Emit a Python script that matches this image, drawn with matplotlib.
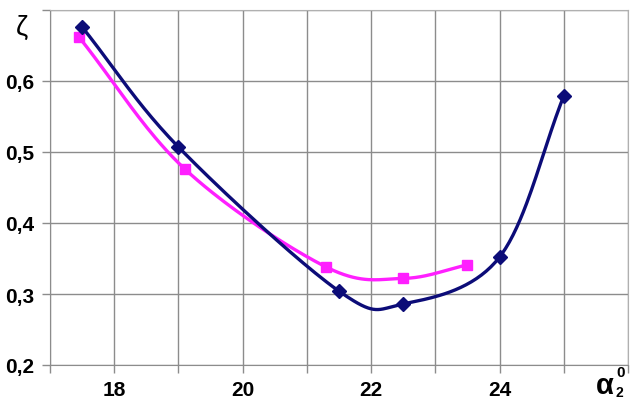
import numpy as np
import matplotlib
matplotlib.use("Agg")
import matplotlib.pyplot as plt
from matplotlib import font_manager

# Data
blue_x = [17.5, 19.0, 21.5, 22.5, 24.0, 25.0]
blue_y = [0.676, 0.507, 0.304, 0.286, 0.352, 0.579]
pink_x = [17.45, 19.1, 21.3, 22.5, 23.5]
pink_y = [0.662, 0.476, 0.338, 0.322, 0.341]
x_ticks = [18, 20, 22, 24]
y_ticks = [0.2, 0.3, 0.4, 0.5, 0.6]
y_labels = ["0,2", "0,3", "0,4", "0,5", "0,6"]


def catmull_rom(xs, ys, n=40):
    p = np.column_stack([xs, ys]).astype(float)
    p = np.vstack([2 * p[0] - p[1], p, 2 * p[-1] - p[-2]])
    out = []
    t = np.linspace(0, 1, n)[:, None]
    for i in range(1, len(p) - 2):
        p0, p1, p2, p3 = p[i - 1], p[i], p[i + 1], p[i + 2]
        seg = 0.5 * ((2 * p1) + (-p0 + p2) * t + (2 * p0 - 5 * p1 + 4 * p2 - p3) * t ** 2
                     + (-p0 + 3 * p1 - 3 * p2 + p3) * t ** 3)
        out.append(seg if i == 1 else seg[1:])
    s = np.vstack(out)
    return s[:, 0], s[:, 1]


names = {f.name for f in font_manager.fontManager.ttflist}
fam = [n for n in ["Liberation Sans Narrow", "Liberation Sans", "DejaVu Sans"] if n in names]
plt.rcParams["font.family"] = fam

fig = plt.figure(figsize=(6.4, 4.06), dpi=100)
ax = fig.add_axes([50 / 640, 1 - 366 / 406, 578 / 640, 355 / 406])

navy = "#0c0c78"
pink = "#ff1fff"

bx, by = catmull_rom(blue_x, blue_y)
px, py = catmull_rom(pink_x, pink_y)
ax.plot(px, py, color=pink, lw=2.4, zorder=3)
ax.plot(pink_x, pink_y, ls="none", marker="s", ms=6.5, color=pink, zorder=4)
ax.plot(bx, by, color=navy, lw=2.4, zorder=5)
ax.plot(blue_x, blue_y, ls="none", marker="D", ms=7.5, color=navy, zorder=6)

ax.set_xlim(17, 26)
ax.set_ylim(0.2, 0.7)
ax.set_xticks(np.arange(17, 27, 1))
ax.set_xticklabels([str(v) if v in x_ticks else "" for v in range(17, 27)])
ax.set_yticks(y_ticks + [0.7])
ax.set_yticklabels(y_labels + [""])
ax.grid(True, color="#8c8c8c", lw=1.0)
ax.set_axisbelow(True)
for s in ["top", "right"]:
    ax.spines[s].set_color("#b0b0b0")
for s in ["left", "bottom"]:
    ax.spines[s].set_color("#8c8c8c")
ax.tick_params(direction="out", length=6, color="#8c8c8c", width=1,
               labelsize=15)
for lab in ax.get_xticklabels() + ax.get_yticklabels():
    lab.set_fontweight("bold")
ax.tick_params(axis="x", pad=5)
ax.tick_params(axis="y", pad=5)

lf = ["Liberation Sans", "DejaVu Sans"]
fig.text(22 / 640, 1 - 28 / 406, "ζ", fontsize=20, ha="center", va="center",
         family=lf)
fig.text(605 / 640, 1 - 386 / 406, "α", fontsize=21, ha="center",
         va="center", family=lf, fontweight="bold")
fig.text(616 / 640, 1 - 393 / 406, "2", fontsize=10, ha="left",
         va="center", family=lf, fontweight="bold")
fig.text(616 / 640, 1 - 373 / 406, "0", fontsize=11, ha="left",
         va="center", family=lf, fontweight="bold")

fig.savefig("out.png", dpi=100)
